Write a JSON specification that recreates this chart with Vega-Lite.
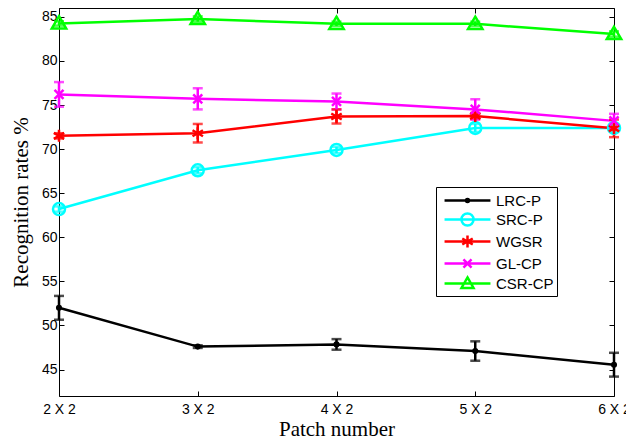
{
  "$schema": "https://vega.github.io/schema/vega-lite/v6.json",
  "width": 555,
  "height": 388,
  "autosize": {"type": "none"},
  "padding": {"left": 59, "top": 8, "right": 12, "bottom": 44},
  "background": "white",
  "config": {
    "view": {"stroke": "black", "strokeWidth": 1},
    "axis": {
      "domain": false,
      "grid": false,
      "tickColor": "black",
      "tickSize": -5,
      "tickWidth": 1,
      "labelFont": "Liberation Sans",
      "labelFontSize": 14,
      "labelColor": "black",
      "titleFont": "Liberation Serif",
      "titleFontSize": 21,
      "titleFontWeight": "normal",
      "titleColor": "black"
    }
  },
  "data": {
    "values": [
      {"method": "LRC-P", "patch": "2 X 2", "rate": 52.0, "err": 1.35},
      {"method": "LRC-P", "patch": "3 X 2", "rate": 47.6, "err": 0.15},
      {"method": "LRC-P", "patch": "4 X 2", "rate": 47.85, "err": 0.6},
      {"method": "LRC-P", "patch": "5 X 2", "rate": 47.1, "err": 1.1},
      {"method": "LRC-P", "patch": "6 X 2", "rate": 45.55, "err": 1.35},
      {"method": "SRC-P", "patch": "2 X 2", "rate": 63.2, "err": 0.3},
      {"method": "SRC-P", "patch": "3 X 2", "rate": 67.6, "err": 0.35},
      {"method": "SRC-P", "patch": "4 X 2", "rate": 69.9, "err": 0.35},
      {"method": "SRC-P", "patch": "5 X 2", "rate": 72.4, "err": 0.45},
      {"method": "SRC-P", "patch": "6 X 2", "rate": 72.4, "err": 0.35},
      {"method": "WGSR", "patch": "2 X 2", "rate": 71.5, "err": 0.3},
      {"method": "WGSR", "patch": "3 X 2", "rate": 71.8, "err": 1.05},
      {"method": "WGSR", "patch": "4 X 2", "rate": 73.7, "err": 0.8},
      {"method": "WGSR", "patch": "5 X 2", "rate": 73.75, "err": 0.35},
      {"method": "WGSR", "patch": "6 X 2", "rate": 72.35, "err": 1.0},
      {"method": "GL-CP", "patch": "2 X 2", "rate": 76.2, "err": 1.4},
      {"method": "GL-CP", "patch": "3 X 2", "rate": 75.7, "err": 1.2},
      {"method": "GL-CP", "patch": "4 X 2", "rate": 75.4, "err": 0.9},
      {"method": "GL-CP", "patch": "5 X 2", "rate": 74.5, "err": 1.15},
      {"method": "GL-CP", "patch": "6 X 2", "rate": 73.2, "err": 0.8},
      {"method": "CSR-CP", "patch": "2 X 2", "rate": 84.25, "err": 0.25},
      {"method": "CSR-CP", "patch": "3 X 2", "rate": 84.75, "err": 0.3},
      {"method": "CSR-CP", "patch": "4 X 2", "rate": 84.2, "err": 0.25},
      {"method": "CSR-CP", "patch": "5 X 2", "rate": 84.2, "err": 0.25},
      {"method": "CSR-CP", "patch": "6 X 2", "rate": 83.05, "err": 0.3}
    ]
  },
  "layer": [
    {
      "mark": {"type": "line", "strokeWidth": 2.5, "clip": false},
      "encoding": {
        "x": {"field": "patch", "type": "ordinal", "scale": {"type": "point", "padding": 0},
              "axis": {"orient": "bottom", "title": "Patch number", "labelAngle": 0, "labelPadding": 11, "labelFontSize": 14, "titlePadding": 2}},
        "y": {"field": "rate", "type": "quantitative", "scale": {"domain": [42, 86], "nice": false, "zero": false},
              "axis": {"orient": "left", "title": "Recognition rates %", "values": [45, 50, 55, 60, 65, 70, 75, 80, 85], "labelPadding": 7, "titlePadding": 10}},
        "color": {"field": "method", "type": "nominal",
                  "scale": {"domain": ["LRC-P", "SRC-P", "WGSR", "GL-CP", "CSR-CP"], "range": ["#000000", "#00FFFF", "#FF0000", "#FF00FF", "#00FF00"]},
                  "legend": null},
        "detail": {"field": "method"}
      }
    },
    {
      "mark": {"type": "errorbar", "ticks": {"size": 10, "thickness": 2.5}, "rule": {"strokeWidth": 2.5}, "clip": false},
      "encoding": {
        "x": {"field": "patch", "type": "ordinal", "axis": null},
        "y": {"field": "rate", "type": "quantitative", "axis": null},
        "yError": {"field": "err"},
        "color": {"field": "method", "type": "nominal", "legend": null}
      }
    },
    {
      "mark": {"type": "point", "filled": false, "strokeWidth": 2.5, "size": 144, "opacity": 1, "clip": false},
      "encoding": {
        "x": {"field": "patch", "type": "ordinal", "axis": null},
        "y": {"field": "rate", "type": "quantitative", "axis": null},
        "color": {"field": "method", "type": "nominal", "legend": null},
        "shape": {"field": "method", "type": "nominal", "legend": null,
                  "scale": {"domain": ["LRC-P", "SRC-P", "WGSR", "GL-CP", "CSR-CP"],
                            "range": ["M-0.3,0A0.3,0.3,0,1,0,0.3,0A0.3,0.3,0,1,0,-0.3,0",
                                      "M-1,0A1,1,0,1,0,1,0A1,1,0,1,0,-1,0",
                                      "M0,-1L0,1M-0.87,-0.5L0.87,0.5M-0.87,0.5L0.87,-0.5",
                                      "M-0.75,-0.75L0.75,0.75M-0.75,0.75L0.75,-0.75",
                                      "M0,-1.2L1.2,0.85L-1.2,0.85Z"]}}
      }
    },
    {
      "mark": {"type": "point", "filled": false, "opacity": 0, "size": 324,
               "stroke": {"expr": "scale('color', datum.method || datum.value)"}},
      "encoding": {
        "x": {"field": "patch", "type": "ordinal",
              "axis": {"orient": "top", "labels": false, "title": null}},
        "y": {"field": "rate", "type": "quantitative",
              "axis": {"orient": "right", "labels": false, "title": null, "values": [45, 50, 55, 60, 65, 70, 75, 80, 85]}},
        "shape": {"field": "method", "type": "nominal",
                  "scale": {"domain": ["LRC-P", "SRC-P", "WGSR", "GL-CP", "CSR-CP"],
                            "range": ["M-2.55,0L2.55,0M-0.17,0A0.17,0.17,0,1,0,0.17,0A0.17,0.17,0,1,0,-0.17,0",
                                      "M-2.55,0L2.55,0M-0.67,0A0.67,0.67,0,1,0,0.67,0A0.67,0.67,0,1,0,-0.67,0",
                                      "M-2.55,0L2.55,0M0,-0.67L0,0.67M-0.58,-0.33L0.58,0.33M-0.58,0.33L0.58,-0.33",
                                      "M-2.55,0L2.55,0M-0.45,-0.45L0.45,0.45M-0.45,0.45L0.45,-0.45",
                                      "M-2.55,0L2.55,0M0,-0.67L0.67,0.5L-0.67,0.5Z"]},
                  "legend": {"orient": "none", "legendX": 377, "legendY": 179, "title": null,
                             "strokeColor": "black", "fillColor": "white", "padding": 3,
                             "symbolSize": 324, "symbolStrokeWidth": 2.5, "symbolFillColor": "transparent",
                             "symbolOpacity": 1, "symbolOffset": 18, "labelOffset": 18,
                             "labelFont": "Liberation Sans", "labelFontSize": 15, "labelColor": "black",
                             "rowPadding": -2}}
      }
    }
  ],
  "resolve": {"scale": {"shape": "independent"}, "axis": {"x": "independent", "y": "independent"}}
}
